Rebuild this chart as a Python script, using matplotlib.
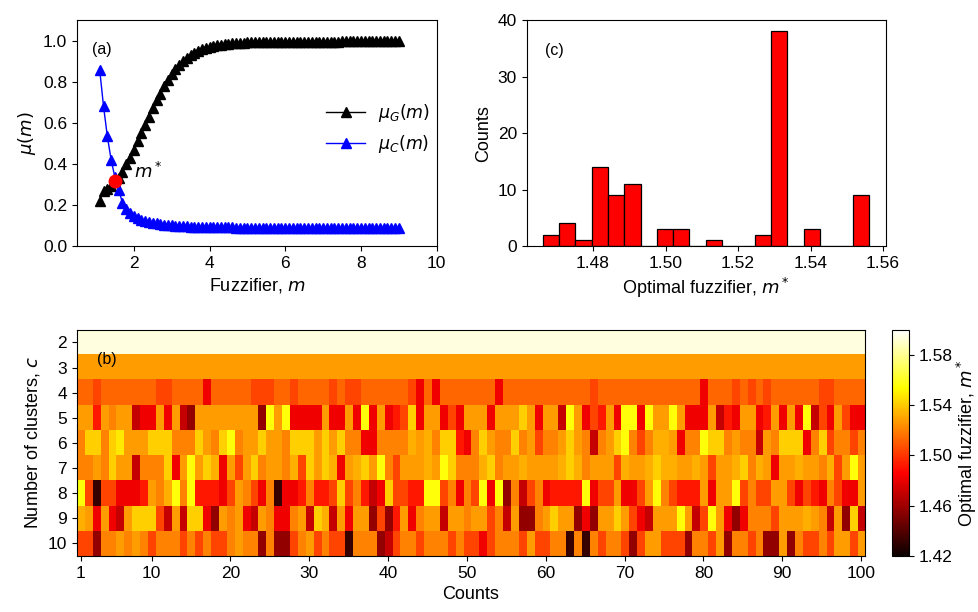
import numpy as np
import matplotlib
matplotlib.use("Agg")
import matplotlib.pyplot as plt

plt.rcParams['font.family'] = ['Liberation Sans', 'DejaVu Sans']
plt.rcParams['font.size'] = 12.5

# ---- panel (a): membership curves ----
m_grid = np.round(np.arange(1.1, 9.01, 0.1), 1)
mu_G = [0.22, 0.27, 0.28, 0.29, 0.31, 0.33, 0.36, 0.40, 0.43, 0.47,
        0.51, 0.55, 0.59, 0.63, 0.67, 0.71, 0.74, 0.78, 0.81, 0.84,
        0.86, 0.88, 0.90, 0.915, 0.93, 0.94, 0.95, 0.958, 0.964, 0.970,
        0.974, 0.978, 0.981, 0.984, 0.986, 0.988, 0.989, 0.990, 0.991, 0.992,
        0.993, 0.993, 0.994, 0.994, 0.994, 0.995, 0.995, 0.995, 0.995,
        0.996, 0.996, 0.996, 0.996, 0.996, 0.996, 0.996, 0.996, 0.996, 0.996,
        0.996, 0.996, 0.996, 0.996, 0.996,
        0.997, 0.997, 0.997, 0.997, 0.997, 0.997, 0.997, 0.997, 0.997, 0.997,
        0.997, 0.997, 0.997, 0.997, 0.997, 0.997]
mu_C = [0.855, 0.68, 0.535, 0.42, 0.335, 0.275, 0.21, 0.18, 0.16, 0.147,
        0.137, 0.129, 0.123, 0.118, 0.114, 0.110, 0.107, 0.104, 0.102, 0.100,
        0.099, 0.098, 0.097, 0.096, 0.095, 0.094, 0.094, 0.093, 0.093, 0.092,
        0.092, 0.092, 0.091, 0.091, 0.091, 0.091, 0.090, 0.090, 0.090, 0.090,
        0.090, 0.089, 0.089, 0.089, 0.089, 0.089, 0.089, 0.088, 0.088,
        0.088, 0.088, 0.088, 0.088, 0.088, 0.088, 0.088, 0.088, 0.088, 0.088,
        0.087, 0.087, 0.087, 0.087, 0.087, 0.087, 0.087, 0.087, 0.087, 0.087,
        0.086, 0.086, 0.086, 0.086, 0.086, 0.086, 0.086, 0.086, 0.086, 0.086, 0.086]
m_star = 1.51
mu_star = 0.315

# ---- panel (c): histogram of optimal fuzzifier ----
bin_start = 1.4661
bin_width = 0.0045
hist_counts = [2, 4, 1, 14, 9, 11, 0, 3, 3, 0, 1, 0, 0, 2, 38, 0, 3, 0, 0, 9]

# ---- panel (b): heat map, rows c = 2..10, 100 runs ----
# colour codes -> approx m* value
levels = {'K': 1.432, 'D': 1.457, 'C': 1.470, 'R': 1.482, 'r': 1.492,
          's': 1.504, 'o': 1.513, 'O': 1.521, 'A': 1.528, 'a': 1.533,
          'Y': 1.541, 'y': 1.548, 'L': 1.556, 'W': 1.594}
clusters = [2, 3, 4, 5, 6, 7, 8, 9, 10]
row_c2 = "W" * 100
row_c3 = "A" * 100
row_c4 = ("oosooooooossooooRooooosss" + "oosoooosossoooooosRoRoooo"
          + "oooRooooooooooosooooooooo" + "ooooRooosososoooooossoooo")
row_c5 = ("AArAOAACRRARACDAAAAAAAADL" + "ALRRRRARRARLRARrsYRAARsRA"
          + "AARAAAYARAACLARsrARLLRLAA" + "LARRRACrRAARrARARLCsRAsRR")
row_c6 = ("OYYOYyAAAYYYOOOYAOYLOAAYA" + "AOYYYAYAYOORROOOOaAaOYYrR"
          + "OYAOOYOAsOOAYAOCOAYLOsOaa" + "AROOLYYOAOOCAOYYYROYsOOsO")
row_c7 = ("OOAOYAACOOOYRALAYaRAsAYOA" + "AOasYAYaRAaYALOsAAAaALYOO"
          + "OaYOAAaAAAAaYaOAAAsaAAaYa" + "aAAaAsAAaYOaARAAaAAOasALA")
row_c8 = ("LsKssRRRrAOaLOLrrrRsAOsRO" + "KRRrOrrsYsOrCRYssrrLLsORO"
          + "sLRLDOCsORrrrrLRssARRsALO" + "srrrARAALsOssAAsRsrROsRRA")
row_c9 = ("aARARCAYYYsCACYYRDAOARCAO" + "RROACYaCARAADsDrAROAACAAO"
          + "AAsOCADDOAYAADRDAAYAsRCAA" + "ALACsLARDROOOsAAAaAOCADYC")
row_c10 = ("ssDOOAOAOsOOOsOsOssOAOODO" + "DDsOAsOssKOOODCsOOsOOOsOs"
           + "sRsOOOsAssOOKOKOsOOsDsAAs" + "ssDOOsADOOsODDADOssOsAAsA")
heat_rows = [row_c2, row_c3, row_c4, row_c5, row_c6, row_c7, row_c8, row_c9, row_c10]
run_ticks = [1, 10, 20, 30, 40, 50, 60, 70, 80, 90, 100]
cbar_ticks = [1.42, 1.46, 1.50, 1.54, 1.58]

heat = np.array([[levels[ch] for ch in row] for row in heat_rows])

lab_fs = 13

fig = plt.figure(figsize=(9.79, 6.12), dpi=100)

# (a)
ax_a = fig.add_axes([0.0787, 0.598, 0.3673, 0.369])
ax_a.plot(m_grid, mu_G, '-^', color='black', ms=7, lw=1, label=r'$\mu_G(m)$')
ax_a.plot(m_grid, mu_C, '-^', color='#0000ff', ms=7, lw=1, label=r'$\mu_C(m)$')
ax_a.plot([m_star], [mu_star], 'o', color='red', ms=9, zorder=5)
ax_a.text(2.0, 0.33, r'$m^*$', fontsize=13)
ax_a.text(1.16, 0.955, '(a)', fontsize=11.5, ha='center', va='center')
ax_a.set_xlim(0.5, 10)
ax_a.set_ylim(0, 1.1)
ax_a.set_xticks([2, 4, 6, 8, 10])
ax_a.set_yticks([0.0, 0.2, 0.4, 0.6, 0.8, 1.0])
ax_a.set_xlabel(r'Fuzzifier, $m$', fontsize=lab_fs)
ax_a.set_ylabel(r'$\mu(m)$', fontsize=lab_fs)
ax_a.legend(loc='center left', bbox_to_anchor=(0.65, 0.52), frameon=False,
            fontsize=12.5, handlelength=2.2, handletextpad=0.8)

# (c)
ax_c = fig.add_axes([0.538, 0.598, 0.367, 0.369])
edges = bin_start + bin_width * np.arange(len(hist_counts) + 1)
ax_c.bar(edges[:-1], hist_counts, width=np.diff(edges), align='edge',
         color='#ff0000', edgecolor='black', linewidth=0.9)
ax_c.set_xlim(1.4617, 1.5608)
ax_c.set_ylim(0, 40)
ax_c.set_xticks([1.48, 1.50, 1.52, 1.54, 1.56])
ax_c.set_yticks([0, 10, 20, 30, 40])
ax_c.set_xlabel(r'Optimal fuzzifier, $m^*$', fontsize=lab_fs)
ax_c.set_ylabel('Counts', fontsize=lab_fs)
ax_c.text(1.4693, 34.7, '(c)', fontsize=11.5, ha='center', va='center')

# (b)
ax_b = fig.add_axes([0.0783, 0.0915, 0.8053, 0.3695])
im = ax_b.imshow(heat, cmap='hot', vmin=1.42, vmax=1.60, aspect='auto',
                 interpolation='nearest',
                 extent=(0.5, heat.shape[1] + 0.5, clusters[-1] + 0.5, clusters[0] - 0.5))
ax_b.set_xticks(run_ticks)
ax_b.set_yticks(clusters)
ax_b.set_xlabel('Counts', fontsize=lab_fs)
ax_b.set_ylabel(r'Number of clusters, $c$', fontsize=lab_fs)
ax_b.text(0.038, 0.867, '(b)', transform=ax_b.transAxes, fontsize=11.5,
          ha='center', va='center')

cax = fig.add_axes([0.911, 0.0915, 0.017, 0.3695])
cb = fig.colorbar(im, cax=cax, ticks=cbar_ticks)
cb.ax.set_yticklabels(['%.2f' % t for t in cbar_ticks])
cb.set_label(r'Optimal fuzzifier, $m^*$', fontsize=lab_fs, labelpad=2)

fig.savefig('out.png', dpi=100)
